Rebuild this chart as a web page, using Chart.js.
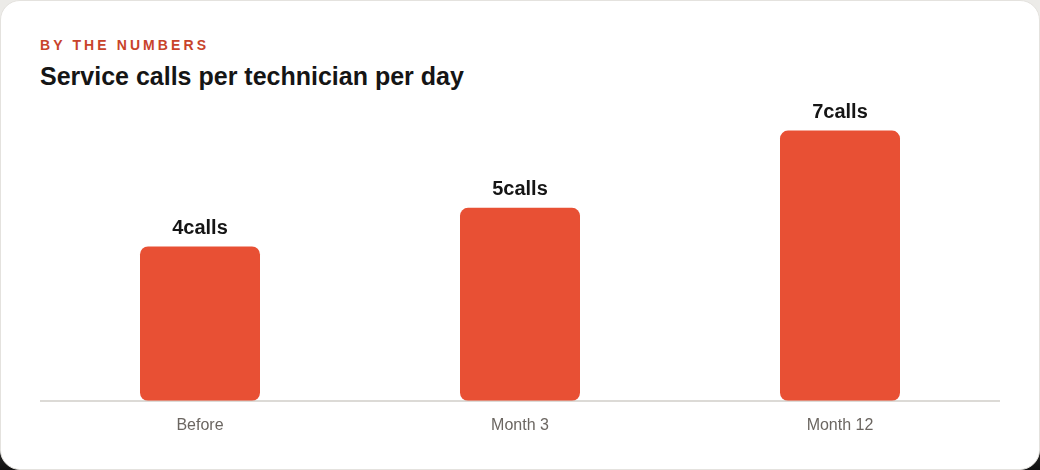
<!DOCTYPE html>
<html>
<head>
<meta charset="utf-8">
<script src="https://cdn.jsdelivr.net/npm/chart.js@4"></script>
<style>
  html, body { margin: 0; padding: 0; }
  body { background: linear-gradient(#ecebe8 0%, #ecebe8 55%, #111 100%); width: 1040px; height: 470px; }
  .card {
    position: relative;
    width: 1040px; height: 470px;
    background: #fff;
    border-radius: 20px;
    box-sizing: border-box;
    border: 1px solid #e4e2de;
    overflow: hidden;
    font-family: "Liberation Sans", Arial, sans-serif;
  }
  .eyebrow {
    position: absolute; left: 39px; top: 36px;
    font-size: 14px; font-weight: bold; letter-spacing: 3.1px;
    color: #c8432b;
  }
  .title {
    position: absolute; left: 39px; top: 61px;
    font-size: 25px; font-weight: bold; color: #151515;
  }
  .chart-box {
    position: absolute; left: 39px; top: 91px;
    width: 960px; height: 350px;
  }
</style>
</head>
<body>
<div class="card">
  <div class="eyebrow">BY THE NUMBERS</div>
  <div class="title">Service calls per technician per day</div>
  <div class="chart-box"><canvas id="barChart"></canvas></div>
</div>
<script>
var categories = ["Before", "Month 3", "Month 12"];
var callsPerDay = [4, 5, 7];
var unitLabel = "calls";

// labels above each bar, placed from the bar elements
var valueLabels = {
  id: 'valueLabels',
  afterDatasetsDraw(chart) {
    var c = chart.ctx;
    var meta = chart.getDatasetMeta(0);
    c.save();
    c.font = "bold 20px 'Liberation Sans', Arial, sans-serif";
    c.fillStyle = "#151515";
    c.textAlign = "center";
    c.textBaseline = "bottom";
    meta.data.forEach(function(bar, i) {
      c.fillText(callsPerDay[i] + unitLabel, bar.x, bar.y - 8);
    });
    c.restore();
  }
};

var ctx = document.getElementById('barChart');
var chart = new Chart(ctx, {
  type: 'bar',
  data: {
    labels: categories,
    datasets: [{
      data: callsPerDay,
      backgroundColor: "#e85034",
      borderRadius: 8,
      borderSkipped: false,
      barPercentage: 0.375,
      categoryPercentage: 1.0
    }]
  },
  options: {
    responsive: true,
    maintainAspectRatio: false,
    animation: false,
    layout: { padding: 0 },
    plugins: {
      legend: { display: false },
      tooltip: { enabled: false }
    },
    scales: {
      x: {
        grid: { display: false },
        border: { display: true, color: "#dcdad6", width: 2 },
        ticks: {
          color: "#6b6661",
          padding: 7,
          font: { family: "'Liberation Sans', Arial, sans-serif", size: 16 }
        }
      },
      y: {
        display: false,
        min: 0,
        max: 8
      }
    }
  },
  plugins: [valueLabels]
});
</script>
</body>
</html>
